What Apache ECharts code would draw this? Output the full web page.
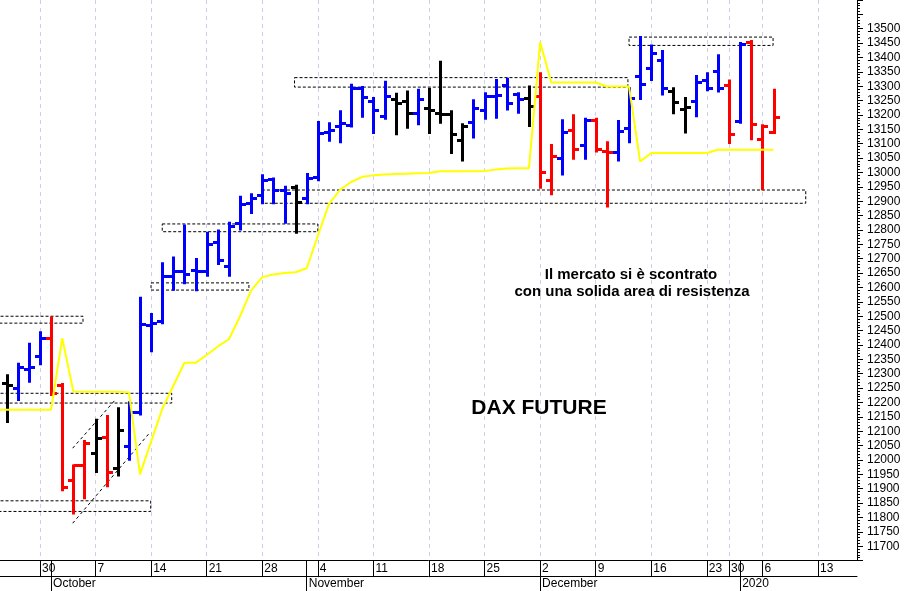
<!DOCTYPE html>
<html><head><meta charset="utf-8">
<script src="https://cdn.jsdelivr.net/npm/echarts@6/dist/echarts.min.js"></script>
<style>html,body{margin:0;padding:0;background:#fff}#c{width:906px;height:591px}</style>
</head><body><div id="c"></div>
<script>
// trading days on the time axis
const categories = [
'2019-09-24','2019-09-25','2019-09-26','2019-09-27','2019-09-30',
'2019-10-01','2019-10-02','2019-10-03','2019-10-04',
'2019-10-07','2019-10-08','2019-10-09','2019-10-10','2019-10-11',
'2019-10-14','2019-10-15','2019-10-16','2019-10-17','2019-10-18',
'2019-10-21','2019-10-22','2019-10-23','2019-10-24','2019-10-25',
'2019-10-28','2019-10-29','2019-10-30','2019-10-31',
'2019-11-01',
'2019-11-04','2019-11-05','2019-11-06','2019-11-07','2019-11-08',
'2019-11-11','2019-11-12','2019-11-13','2019-11-14','2019-11-15',
'2019-11-18','2019-11-19','2019-11-20','2019-11-21','2019-11-22',
'2019-11-25','2019-11-26','2019-11-27','2019-11-28','2019-11-29',
'2019-12-02','2019-12-03','2019-12-04','2019-12-05','2019-12-06',
'2019-12-09','2019-12-10','2019-12-11','2019-12-12','2019-12-13',
'2019-12-16','2019-12-17','2019-12-18','2019-12-19','2019-12-20',
'2019-12-23','2019-12-27','2019-12-30',
'2020-01-02','2020-01-03',
'2020-01-06','2020-01-07','2020-01-08','2020-01-09','2020-01-10',
'2020-01-13','2020-01-14','2020-01-15','2020-01-16','2020-01-17'];

const weekTickDates = ['2019-09-30','2019-10-07','2019-10-14','2019-10-21','2019-10-28','2019-11-04','2019-11-11','2019-11-18','2019-11-25','2019-12-02','2019-12-09','2019-12-16','2019-12-23','2019-12-30','2020-01-06','2020-01-13'];
const monthStartDates = ['2019-10-01','2019-11-01','2019-12-02','2020-01-02'];
const monthLabels = ['October','November','December','2020'];

// OHLC bars
const barDates = [
'2019-09-25','2019-09-26','2019-09-27','2019-09-30',
'2019-10-01','2019-10-02','2019-10-03','2019-10-04',
'2019-10-07','2019-10-08','2019-10-09','2019-10-10','2019-10-11',
'2019-10-14','2019-10-15','2019-10-16','2019-10-17','2019-10-18',
'2019-10-21','2019-10-22','2019-10-23','2019-10-24','2019-10-25',
'2019-10-28','2019-10-29','2019-10-30','2019-10-31',
'2019-11-01',
'2019-11-04','2019-11-05','2019-11-06','2019-11-07','2019-11-08',
'2019-11-11','2019-11-12','2019-11-13','2019-11-14','2019-11-15',
'2019-11-18','2019-11-19','2019-11-20','2019-11-21','2019-11-22',
'2019-11-25','2019-11-26','2019-11-27','2019-11-28','2019-11-29',
'2019-12-02','2019-12-03','2019-12-04','2019-12-05','2019-12-06',
'2019-12-09','2019-12-10','2019-12-11','2019-12-12','2019-12-13',
'2019-12-16','2019-12-17','2019-12-18','2019-12-19','2019-12-20',
'2019-12-23','2019-12-27','2019-12-30',
'2020-01-02','2020-01-03',
'2020-01-06','2020-01-07'];
const opens = [12268,12252,12318,12361, 12424,12260,11929,11984, 12024,12081,11972,12050,12167, 12470,12485,12641,12659,12661, 12656,12759,12675,12825,12893, 12922,12977,12939,12950, 12910,
 12985,13140,13162,13164,13293, 13248,13196,13256,13248,13208, 13225,13208,13202,13114,13176, 13219,13267,13305,13274,13259,
 13265,12973,13050,13147,13096, 13182,13076,13073,13156,13336, 13362,13393,13282,13221,13248, 13322,13354,13305, 13179,13454, 13118,13141];
const highs = [12295,12335,12404,12444, 12496,12264,11981,12066, 12140,12153,12180,12201,12564, 12508,12684,12704,12816,12699, 12790,12798,12825,12916,12924, 12990,12979,12950,12954, 12995,
 13176,13171,13213,13305,13297, 13259,13316,13274,13282,13288, 13290,13385,13213,13168,13251, 13276,13322,13326,13276,13299,
 13345,13096,13182,13199,13187, 13187,13105,13179,13293,13471, 13442,13423,13293,13259,13336, 13345,13408,13320, 13450,13457, 13164,13288];
const lows = [12132,12209,12272,12333, 12226,11895,11814,11867, 11958,11909,11946,12001,12158, 12378,12476,12592,12615,12590, 12641,12682,12641,12802,12859, 12893,12893,12825,12790, 12893,
 12973,13110,13105,13160,13194, 13137,13187,13133,13156,13168, 13137,13173,13068,13042,13122, 13187,13190,13219,13208,13162,
 12947,12924,12993,13048,13048, 13073,12882,13042,13105,13256, 13322,13271,13206,13139,13196, 13286,13282,13103, 13173,13116, 12942,13137];
const closes = [12262,12324,12322,12424, 12233,11906,11981,12058, 12075,11958,12104,12167,12473, 12476,12641,12659,12647,12659, 12752,12695,12815,12890,12910, 12973,12939,12929,12899, 12980,
 13137,13148,13173,13293,13262, 13217,13267,13242,13208,13254, 13217,13202,13133,13160,13225, 13267,13271,13242,13256,13231,
 13002,13057,13140,13082,13182, 13080,13073,13145,13259,13308, 13416,13293,13244,13228,13316, 13293,13293,13133, 13448,13168, 13162,13194];
// bar colour signal: b = blue, r = red, k = black
const barSignal = ['k','b','b','b', 'r','r','r','r', 'k','r','k','b','b', 'b','b','b','b','b', 'b','b','b','b','b', 'b','b','b','k', 'b',
 'b','b','b','b','b', 'b','b','k','k','b', 'k','k','k','k','b', 'b','b','b','b','k',
 'r','r','b','r','b', 'r','r','b','b','b', 'b','b','k','k','b', 'b','b','r', 'b','r', 'r','r'];

// yellow stop line, one value per trading day from the first category
const stopLine = [12175,12175,12175,12175,12175, 12175,12424,12238,12237, 12237,12237,12237,12235,11950,
 12064,12178,12258,12338,12338, 12365,12395,12420,12500,12590, 12636,12645,12650,12653, 12667,
 12780,12890,12940,12967,12985, 12990,12993,12995,12996,12997, 12998,13004,13004,13004,13004, 13005,13010,13014,13015,13015,
 13454,13313,13313,13313,13313, 13313,13299,13299,13299,13038, 13068,13068,13068,13068,13068, 13068,13079,13079, 13079,13079, 13079,13079];

// dashed support / resistance zones (trading-day position from, to; price low, high)
const zoneFrom = [0, 0, 0, 13.99, 15.0, 23.97, 26.9, 57.0];
const zoneTo   = [7.87, 13.96, 15.85, 22.8, 29.0, 72.9, 56.9, 69.96];
const zoneLow  = [12476, 11821, 12198, 12591, 12794, 12893, 13297, 13442];
const zoneHigh = [12500, 11858, 12232, 12616, 12821, 12939, 13330, 13471];

// dashed channel lines (position, price) -> (position, price)
const channelFrom = [[6.94, 12041], [6.94, 11780]];
const channelTo   = [[10.84, 12212], [13.9, 12096]];

const colorMap = {b: '#0000ff', r: '#ff0000', k: '#000000'};
const FONT = '"Liberation Sans", Arial, sans-serif';

const chart = echarts.init(document.getElementById('c'), null, {renderer: 'canvas'});

const pMin = 0.4013, pMax = 77.512;
const gTop = -7.64, gBottom = 30.4;

const barData = barDates.map((d, i) => [categories.indexOf(d), opens[i], highs[i], lows[i], closes[i]]);
const zoneData = zoneFrom.map((f, i) => [f, zoneTo[i], zoneLow[i], zoneHigh[i]]);
const chanData = channelFrom.map((f, i) => [f[0], f[1], channelTo[i][0], channelTo[i][1]]);
const axisDays = categories.slice(1);

const isWeek = (idx, val) => weekTickDates.indexOf(val) >= 0;
const isMonth = (idx, val) => monthStartDates.indexOf(val) >= 0;

const option = {
  animation: false,
  backgroundColor: '#fff',
  grid: [
    {left: 0, right: 49, top: gTop, bottom: gBottom},
    {left: 6.65, right: 43.58, top: gTop, bottom: gBottom},
    {left: 6.65, right: 43.58, top: gTop, bottom: gBottom},
    {left: 0, right: 49, top: 0, bottom: 14.3}
  ],
  xAxis: [
    {gridIndex: 0, type: 'value', min: pMin, max: pMax, axisLine: {show: true, lineStyle: {color: '#000', width: 1}},
     axisTick: {show: false}, axisLabel: {show: false}, splitLine: {show: false}},
    {gridIndex: 1, type: 'category', data: axisDays, boundaryGap: false,
     axisLine: {show: false},
     axisTick: {show: true, interval: isWeek, length: 16.5, lineStyle: {color: '#000', width: 1}},
     axisLabel: {show: true, interval: isWeek, formatter: v => String(parseInt(v.slice(8), 10)),
       align: 'left', padding: [0, 0, 0, 2], margin: 2.5, fontSize: 12, fontFamily: FONT, color: '#000'},
     splitLine: {show: true, interval: isWeek, lineStyle: {color: '#cfcfec', width: 1, type: [4, 4]}}},
    {gridIndex: 2, type: 'category', data: axisDays, boundaryGap: false,
     axisLine: {show: false},
     axisTick: {show: true, interval: isMonth, length: 31, lineStyle: {color: '#000', width: 1}},
     axisLabel: {show: true, interval: isMonth, formatter: v => monthLabels[monthStartDates.indexOf(v)] || '',
       align: 'left', padding: [0, 0, 0, 2], margin: 17.5, fontSize: 12, fontFamily: FONT, color: '#000'},
     splitLine: {show: false}},
    {gridIndex: 3, type: 'value', min: 0, max: 1, axisLine: {show: true, lineStyle: {color: '#000', width: 1}},
     axisTick: {show: false}, axisLabel: {show: false}, splitLine: {show: false}}
  ],
  yAxis: [
    {gridIndex: 0, type: 'value', position: 'right', min: 11650, max: 13600, interval: 50,
     axisLine: {show: true, lineStyle: {color: '#000', width: 1}},
     axisTick: {show: true, length: 6, lineStyle: {color: '#000'}},
     minorTick: {show: true, splitNumber: 5, length: 3, lineStyle: {color: '#000'}},
     axisLabel: {show: true, margin: 10, fontSize: 12, fontFamily: FONT, color: '#000',
       formatter: v => (v >= 11700 && v <= 13500) ? String(v) : ''},
     splitLine: {show: false}},
    {gridIndex: 1, type: 'value', show: false},
    {gridIndex: 2, type: 'value', show: false},
    {gridIndex: 3, type: 'value', show: false}
  ],
  series: [
    {
      type: 'custom', name: 'zones', xAxisIndex: 0, yAxisIndex: 0, clip: true, z: 2,
      data: zoneData, encode: {x: [0, 1], y: [2, 3]},
      renderItem(params, api) {
        const a = api.coord([api.value(0), api.value(3)]);
        const b = api.coord([api.value(1), api.value(2)]);
        return {type: 'rect', shape: {x: a[0], y: a[1], width: b[0] - a[0], height: b[1] - a[1]},
          style: {fill: 'none', stroke: '#000', lineWidth: 1, lineDash: [3, 2]}};
      }
    },
    {
      type: 'custom', name: 'channel', xAxisIndex: 0, yAxisIndex: 0, clip: true, z: 2,
      data: chanData, encode: {x: [0, 2], y: [1, 3]},
      renderItem(params, api) {
        const a = api.coord([api.value(0), api.value(1)]);
        const b = api.coord([api.value(2), api.value(3)]);
        return {type: 'line', shape: {x1: a[0], y1: a[1], x2: b[0], y2: b[1]},
          style: {stroke: '#000', lineWidth: 1, lineDash: [3, 3]}};
      }
    },
    {
      type: 'custom', name: 'DAX', xAxisIndex: 0, yAxisIndex: 0, clip: true, z: 3,
      data: barData, encode: {x: 0, y: [1, 2, 3, 4]},
      renderItem(params, api) {
        const p = api.value(0);
        const o = api.coord([p, api.value(1)]);
        const h = api.coord([p, api.value(2)]);
        const l = api.coord([p, api.value(3)]);
        const c = api.coord([p, api.value(4)]);
        const x = Math.round(o[0]) + 0.5;
        const st = {stroke: colorMap[barSignal[params.dataIndex]], lineWidth: 3};
        return {type: 'group', children: [
          {type: 'line', shape: {x1: x, y1: h[1] - 1, x2: x, y2: l[1] + 1}, style: st},
          {type: 'line', shape: {x1: x - 5.5, y1: Math.round(o[1]) + 0.5, x2: x, y2: Math.round(o[1]) + 0.5}, style: st},
          {type: 'line', shape: {x1: x, y1: Math.round(c[1]) + 0.5, x2: x + 5.5, y2: Math.round(c[1]) + 0.5}, style: st}
        ]};
      }
    },
    {
      type: 'line', name: 'stop', xAxisIndex: 0, yAxisIndex: 0, z: 4,
      data: stopLine.map((v, i) => [i, v]), showSymbol: false, symbol: 'none',
      lineStyle: {color: '#ffff00', width: 2}, clip: true
    }
  ],
  graphic: [
    {type: 'text', x: 631, y: 275, z: 10, style: {text: 'Il mercato si è scontrato', font: 'bold 15px ' + FONT,
      fill: '#000', align: 'center', verticalAlign: 'middle', textAlign: 'center', textVerticalAlign: 'middle'}},
    {type: 'text', x: 632, y: 292, z: 10, style: {text: 'con una solida area di resistenza', font: 'bold 15px ' + FONT,
      fill: '#000', align: 'center', verticalAlign: 'middle', textAlign: 'center', textVerticalAlign: 'middle'}},
    {type: 'text', x: 539, y: 408, z: 10, style: {text: 'DAX FUTURE', font: 'bold 21px ' + FONT,
      fill: '#000', align: 'center', verticalAlign: 'middle', textAlign: 'center', textVerticalAlign: 'middle'}}
  ]
};
chart.setOption(option);
</script></body></html>
